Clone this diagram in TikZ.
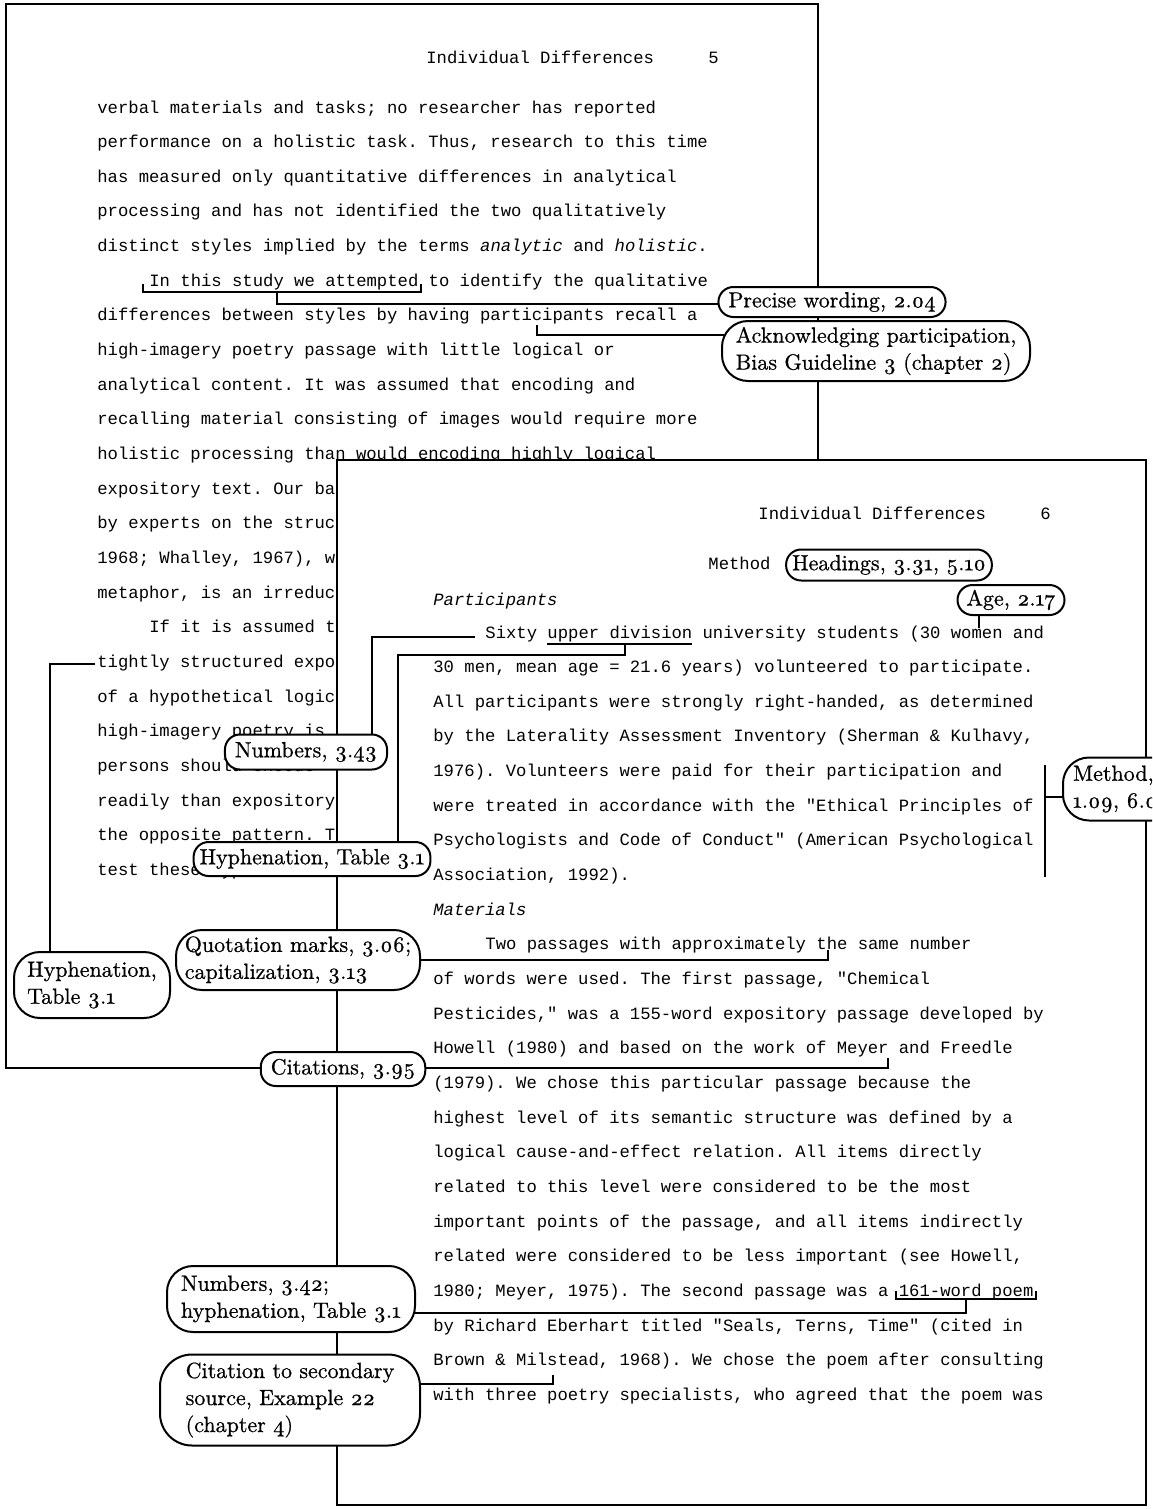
\documentclass[tikz,border=0pt]{standalone}
\usepackage{fontspec}
\newfontfamily\pmono{Liberation Mono}
\newfontfamily\cfont[Numbers=OldStyle, FakeBold=0.7]{Latin Modern Roman}
\frenchspacing
\pgfdeclarelayer{back}
\pgfdeclarelayer{mid}
\pgfsetlayers{back,mid,main}
\tikzset{
 mono/.style={font=\pmono\fontsize{8.62}{10}\selectfont, anchor=base west, inner sep=0pt},
 callout/.style={draw, fill=white, line width=1pt, rounded corners=7.5pt, align=left, inner xsep=5pt, inner ysep=1pt, font=\cfont\fontsize{11}{13.5}\selectfont},
 callbig/.style={callout, rounded corners=13pt},
 conn/.style={line width=1pt},
 pageedge/.style={line width=1.1pt}
}
\begin{document}
\begin{tikzpicture}[x=0.5pt,y=-0.5pt]
\useasboundingbox (0,0) rectangle (1152,1509);
\clip (0,0) rectangle (1152,1509);

\begin{pgfonlayer}{back}
\fill[white] (0,0) rectangle (1152,1509);
% ---------------- page 1 ----------------
\draw[pageedge] (6,4) rectangle (818,1068);
\node[mono] (h1a) at (426,64) {Individual Differences};
\node[mono] (h1b) at (708,64) {5};
\node[mono] (a00) at (97,113.0) {verbal materials and tasks; no researcher has reported};
\node[mono] (a01) at (97,147.65) {performance on a holistic task. Thus, research to this time};
\node[mono] (a02) at (97,182.3) {has measured only quantitative differences in analytical};
\node[mono] (a03) at (97,216.95) {processing and has not identified the two qualitatively};
\node[mono] (a04) at (97,251.6) {distinct styles implied by the terms \textit{analytic} and \textit{holistic}.};
\node[mono] (a05) at (149,286.25) {In this study we attempted to identify the qualitative};
\node[mono] (a06) at (97,320.9) {differences between styles by having participants recall a};
\node[mono] (a07) at (97,355.55) {high-imagery poetry passage with little logical or};
\node[mono] (a08) at (97,390.2) {analytical content. It was assumed that encoding and};
\node[mono] (a09) at (97,424.85) {recalling material consisting of images would require more};
\node[mono] (a10) at (97,459.5) {holistic processing than would encoding highly logical};
\node[mono] (a11) at (97,494.15) {expository text. Our ba};
\node[mono] (a12) at (97,528.8) {by experts on the struc};
\node[mono] (a13) at (97,563.45) {1968; Whalley, 1967), w};
\node[mono] (a14) at (97,598.1) {metaphor, is an irreduc};
\node[mono] (a15) at (149,632.75) {If it is assumed t};
\node[mono] (a16) at (97,667.4) {tightly structured expo};
\node[mono] (a17) at (97,702.05) {of a hypothetical logic};
\node[mono] (a18) at (97,736.7) {high-imagery poetry is};
\node[mono] (a19) at (97,771.35) {persons should encode};
\node[mono] (a20) at (97,806.0) {readily than expository};
\node[mono] (a21) at (97,840.65) {the opposite pattern. T};
\node[mono] (a22) at (97,875.3) {test these hypotheses.};

% ---------------- page 2 ----------------
\draw[pageedge, fill=white] (337,460) rectangle (1146,1505);
\node[mono] (h2a) at (758,519) {Individual Differences};
\node[mono] (h2b) at (1040,519) {6};
\node[mono] (meth2) at (708,569) {Method};
\node[mono] (part) at (433,605) {\textit{Participants}};
\node[mono] (b00) at (485,638.0) {Sixty upper division university students (30 women and};
\node[mono] (b01) at (433,672.65) {30 men, mean age = 21.6 years) volunteered to participate.};
\node[mono] (b02) at (433,707.3) {All participants were strongly right-handed, as determined};
\node[mono] (b03) at (433,741.95) {by the Laterality Assessment Inventory (Sherman \& Kulhavy,};
\node[mono] (b04) at (433,776.6) {1976). Volunteers were paid for their participation and};
\node[mono] (b05) at (433,811.25) {were treated in accordance with the "Ethical Principles of};
\node[mono] (b06) at (433,845.9) {Psychologists and Code of Conduct" (American Psychological};
\node[mono] (b07) at (433,880.55) {Association, 1992).};
\node[mono] (b08) at (433,915.2) {\textit{Materials}};
\node[mono] (b09) at (485,949.85) {Two passages with approximately the same number};
\node[mono] (b10) at (433,984.5) {of words were used. The first passage, "Chemical};
\node[mono] (b11) at (433,1019.15) {Pesticides," was a 155-word expository passage developed by};
\node[mono] (b12) at (433,1053.8) {Howell (1980) and based on the work of Meyer and Freedle};
\node[mono] (b13) at (433,1088.45) {(1979). We chose this particular passage because the};
\node[mono] (b14) at (433,1123.1) {highest level of its semantic structure was defined by a};
\node[mono] (b15) at (433,1157.75) {logical cause-and-effect relation. All items directly};
\node[mono] (b16) at (433,1192.4) {related to this level were considered to be the most};
\node[mono] (b17) at (433,1227.05) {important points of the passage, and all items indirectly};
\node[mono] (b18) at (433,1261.7) {related were considered to be less important (see Howell,};
\node[mono] (b19) at (433,1296.35) {1980; Meyer, 1975). The second passage was a 161-word poem};
\node[mono] (b20) at (433,1331.0) {by Richard Eberhart titled "Seals, Terns, Time" (cited in};
\node[mono] (b21) at (433,1365.65) {Brown \& Milstead, 1968). We chose the poem after consulting};
\node[mono] (b22) at (433,1400.3) {with three poetry specialists, who agreed that the poem was};
\end{pgfonlayer}

% ---------------- callouts ----------------
\node[callout, minimum width=113pt, minimum height=15pt] (prec) at (832,302) {Precise wording, 2.04};
\node[callbig, minimum width=154pt, minimum height=30pt] (ack) at (876,351) {Acknowledging participation,\\Bias Guideline 3 (chapter 2)};
\node[callout, minimum width=100pt, minimum height=15.5pt, inner xsep=3pt] (head) at (889,565) {Headings, 3.31, 5.10};
\node[callout, minimum width=53.5pt, minimum height=15pt, inner xsep=3pt] (age) at (1011,600) {Age, 2.17};
\node[callbig, anchor=west, minimum height=31.5pt, text width=70pt] (meth) at (1062,789) {Method,\\1.09, 6.0};
\node[callout, minimum width=78pt, minimum height=17.5pt] (n43) at (306,752) {Numbers, 3.43};
\node[callout, minimum width=118pt, minimum height=17pt, inner xsep=3pt] (hypW) at (312,859) {Hyphenation, Table 3.1};
\node[callbig, minimum width=78pt, minimum height=33pt, inner xsep=3pt] (hypL) at (92,985) {Hyphenation,\\Table 3.1};
\node[callbig, minimum width=122pt, minimum height=30pt, inner xsep=3pt] (quot) at (298,960) {Quotation marks, 3.06;\\capitalization, 3.13};
\node[callout, minimum width=75pt, minimum height=17pt] (cit) at (343,1069) {Citations, 3.95};
\node[callbig, minimum width=124pt, minimum height=33pt] (n42) at (291,1299) {Numbers, 3.42;\\hyphenation, Table 3.1};
\node[callbig, minimum width=130pt, minimum height=45.5pt, rounded corners=16pt] (sec) at (290,1400) {Citation to secondary\\source, Example 22\\(chapter 4)};

% ---------------- marks and connectors ----------------
\coordinate (ia) at (143,284);
\coordinate (ib) at (421,284);
\coordinate (im) at (277,292);
\coordinate (pa) at (537,325);
\coordinate (tl) at (95,664);
\coordinate (sx) at (475,637);
\coordinate (ul1) at (547,644);
\coordinate (ul2) at (692,644);
\coordinate (ud) at (625,644);
\coordinate (wm) at (979,628);
\coordinate (mb1) at (1045,765);
\coordinate (mb2) at (1045,877);
\coordinate (mbt) at (1045,797);
\coordinate (qt) at (828,950);
\coordinate (ct) at (888,1058);
\coordinate (pw1) at (896,1291);
\coordinate (pw2) at (1036,1291);
\coordinate (pm) at (966,1299);
\coordinate (ms) at (553,1375);
\coordinate (pb) at (537,335);

\begin{pgfonlayer}{mid}
\draw[conn] (ia) -- ++(0,8) -| (ib);
\draw[conn] (im) |- ([yshift=-1pt]prec.center);
\draw[conn] (pa) -- (pb) -- (pb -| ack.center);
\draw[conn] (tl) -| ([xshift=-21pt]hypL.center);
\draw[conn] (sx) -| ([xshift=33pt]n43.center);
\draw[conn] (ul1) -- (ul2);
\draw[conn] (ud) -- ++(0,11) -| ([xshift=43pt]hypW.center);
\draw[conn] (wm) -- (wm |- age.center);
\draw[conn] (mb1) -- (mb2);
\draw[conn] (mbt) -- (mbt -| meth.center);
\draw[conn] (qt) |- (quot.center);
\draw[conn] (ct) |- ([yshift=0.5pt]cit.center);
\draw[conn] (pw1) -- ++(0,8) -| (pw2);
\draw[conn] (pm) |- ([yshift=-7pt]n42.center);
\draw[conn] (ms) |- ([yshift=8pt]sec.center);
\end{pgfonlayer}
\end{tikzpicture}
\end{document}
